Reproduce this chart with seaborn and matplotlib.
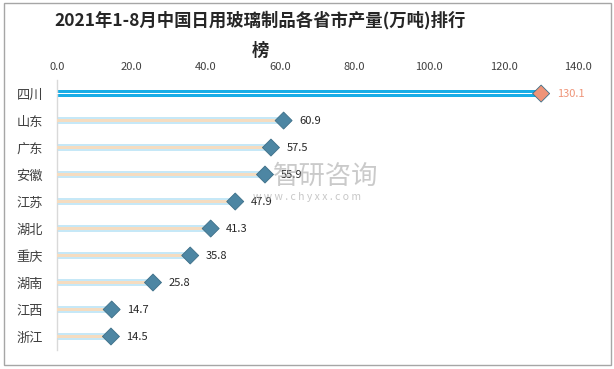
import matplotlib
matplotlib.use("Agg")
import matplotlib.pyplot as plt
import seaborn as sns
import pandas as pd
from matplotlib.patches import Rectangle

# data
provinces = ["四川", "山东", "广东", "安徽", "江苏", "湖北", "重庆", "湖南", "江西", "浙江"]
output = [130.1, 60.9, 57.5, 55.9, 47.9, 41.3, 35.8, 25.8, 14.7, 14.5]
x_ticks = [0, 20, 40, 60, 80, 100, 120, 140]

sns.set_theme(style="white")
plt.rcParams["font.family"] = ["Noto Sans CJK SC", "DejaVu Sans"]

df = pd.DataFrame({"province": provinces, "value": output})
df["top"] = ["top" if p == provinces[0] else "rest" for p in provinces]

fig = plt.figure(figsize=(6.14, 3.69), dpi=100)
ax = fig.add_axes([0.0928, 0.0515, 0.8485, 0.7315])

# wide pale bars with a thin warm stripe in the middle
outer = ["#19ade6" if t == "top" else "#c6e8f7" for t in df["top"]]
inner = ["#ffffff" if t == "top" else "#f5dcc0" for t in df["top"]]
inner_h = [0.045 if t == "top" else 0.08 for t in df["top"]]
ax.barh(df["province"], df["value"], height=0.24, color=outer, linewidth=0, zorder=2)
ax.barh(df["province"], df["value"], height=inner_h, color=inner, linewidth=0, zorder=3)

# diamond markers at bar ends
sns.scatterplot(data=df, x="value", y="province", hue="top",
                palette={"top": "#ef9478", "rest": "#4d86a3"}, marker="D", s=75,
                edgecolor="#3d6f88", linewidth=0.6, legend=False, ax=ax, zorder=5)

for i, v in enumerate(output):
    ax.text(v + 4.2, i, f"{v:.1f}", va="center", ha="left", fontsize=8,
            color="#ef9478" if i == 0 else "#262626", zorder=6)

ax.set_xlim(0, 140)
ax.set_ylim(9.5, -0.5)
ax.set_xticks(x_ticks)
ax.set_xticklabels([f"{t:.1f}" for t in x_ticks], fontsize=8, color="#404040")
ax.xaxis.tick_top()
ax.tick_params(axis="x", length=0, pad=6)
ax.tick_params(axis="y", length=0, pad=10, labelsize=9.5, labelcolor="#404040")
ax.set_xlabel("")
ax.set_ylabel("")
for s in ["top", "right", "bottom"]:
    ax.spines[s].set_visible(False)
ax.spines["left"].set_color("#d9d9d9")
ax.spines["left"].set_linewidth(1.0)

fig.text(0.424, 0.945, "2021年1-8月中国日用玻璃制品各省市产量(万吨)排行", ha="center",
         va="center", fontsize=12.5, fontweight="bold", color="#262626")
fig.text(0.424, 0.862, "榜", ha="center", va="center", fontsize=12.5,
         fontweight="bold", color="#262626")

# watermark
fig.text(0.53, 0.523, "智研咨询", ha="center", va="center", fontsize=19,
         color="#a8a8a8", alpha=0.6, zorder=1)
fig.text(0.5, 0.466, "w w w . c h y x x . c o m", ha="center", va="center",
         fontsize=7.5, color="#b0b0b0", alpha=0.7, zorder=1)

fig.add_artist(Rectangle((0.007, 0.011), 0.988, 0.98, transform=fig.transFigure,
                         fill=False, edgecolor="#a6a6a6", linewidth=1.0))

fig.savefig("out.png", dpi=100)
